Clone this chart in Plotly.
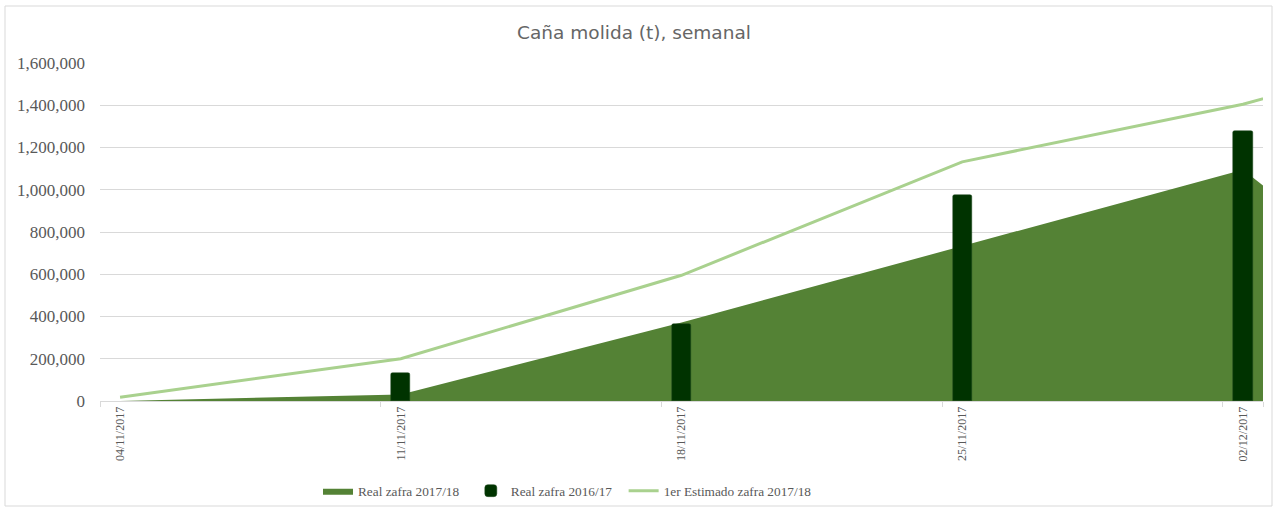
import pandas as pd
import plotly.graph_objects as go

# ---- data ----
days = list(pd.date_range("2017-11-04", "2017-12-03").strftime("%d/%m/%Y"))
tick_labels = ["04/11/2017", "11/11/2017", "18/11/2017", "25/11/2017", "02/12/2017"]

area_dates = ["04/11/2017", "11/11/2017", "18/11/2017", "25/11/2017", "02/12/2017", "03/12/2017"]
real_1718 = [0, 31000, 372000, 733000, 1095000, 945000]

bar_dates = ["11/11/2017", "18/11/2017", "25/11/2017", "02/12/2017"]
real_1617 = [132000, 363000, 974000, 1279000]

line_dates = ["04/11/2017", "11/11/2017", "18/11/2017", "25/11/2017", "02/12/2017", "03/12/2017"]
estimado_1718 = [18000, 200000, 595000, 1132000, 1405000, 1457000]

series_names = ["Real zafra 2017/18", "Real zafra 2016/17", "1er Estimado zafra 2017/18"]

# ---- layout constants ----
W, H = 1278, 512
ML, MR, MT, MB = 100, 15, 63, 111
GREY = "#595959"
SERIF = "Liberation Serif, Times New Roman, serif"
PAD = "\u00a0\u00a0"

fig = go.Figure()
fig.add_trace(go.Scatter(
    x=area_dates, y=real_1718, name=series_names[0] + PAD,
    mode="lines", line=dict(width=0, color="#548235"),
    fill="tozeroy", fillcolor="#548235", hoverinfo="skip",
    xaxis="x", yaxis="y"))
fig.add_trace(go.Bar(
    x=bar_dates, y=real_1617, name=series_names[1] + PAD,
    marker=dict(color="#003300", line=dict(width=0.5, color="#1f4a1f"), cornerradius=2),
    width=0.48, xaxis="x2", yaxis="y2"))
fig.add_trace(go.Scatter(
    x=line_dates, y=estimado_1718, name=series_names[2],
    mode="lines", line=dict(width=3, color="#A9D18E"),
    xaxis="x2", yaxis="y2"))

pw = W - ML - MR
ph = H - MT - MB
def px_x(p):
    return (p - ML) / pw
def px_y(p):
    return (H - MB - p) / ph

fig.add_shape(type="rect", xref="paper", yref="paper",
              x0=px_x(5), x1=px_x(1272), y0=px_y(506), y1=px_y(6),
              line=dict(color="#D9D9D9", width=1), fillcolor="rgba(0,0,0,0)", layer="below")

xcommon = dict(type="category", categoryorder="array", categoryarray=days,
               range=[-0.5, 28.5])

fig.update_layout(
    width=W, height=H,
    margin=dict(l=ML, r=MR, t=MT, b=MB),
    paper_bgcolor="white", plot_bgcolor="white",
    title=dict(text="Caña molida (t), semanal", x=634 / W, xref="container", xanchor="center",
               y=1 - 33 / H, yanchor="middle",
               font=dict(family="DejaVu Sans", size=18.5, color="#666666")),
    bargap=0,
    showlegend=True,
    legend=dict(orientation="h", x=318 / W, xref="container", xanchor="left",
                y=1 - 491 / H, yref="container", yanchor="middle",
                font=dict(family=SERIF, size=13.3, color=GREY),
                itemwidth=30, bgcolor="rgba(0,0,0,0)"),
    xaxis=dict(**xcommon, tickvals=tick_labels, ticktext=tick_labels,
               tickson="boundaries", ticks="outside", ticklen=5, tickcolor="#D9D9D9",
               tickangle=-90, showgrid=False, showline=True, linecolor="#D9D9D9",
               linewidth=1, zeroline=False,
               tickfont=dict(family=SERIF, size=12, color=GREY)),
    yaxis=dict(range=[0, 1600000], dtick=200000, tickformat=",d",
               showgrid=True, gridcolor="#D9D9D9", gridwidth=1, zeroline=False,
               showline=False, ticks="", ticklabelstandoff=14,
               tickfont=dict(family=SERIF, size=17, color=GREY)),
    xaxis2=dict(**xcommon, overlaying="x", visible=False),
    yaxis2=dict(range=[0, 1600000], overlaying="y", visible=False),
)

fig.write_html("out.html", config={"displayModeBar": False},
               post_script="document.body.style.margin='0px';")
